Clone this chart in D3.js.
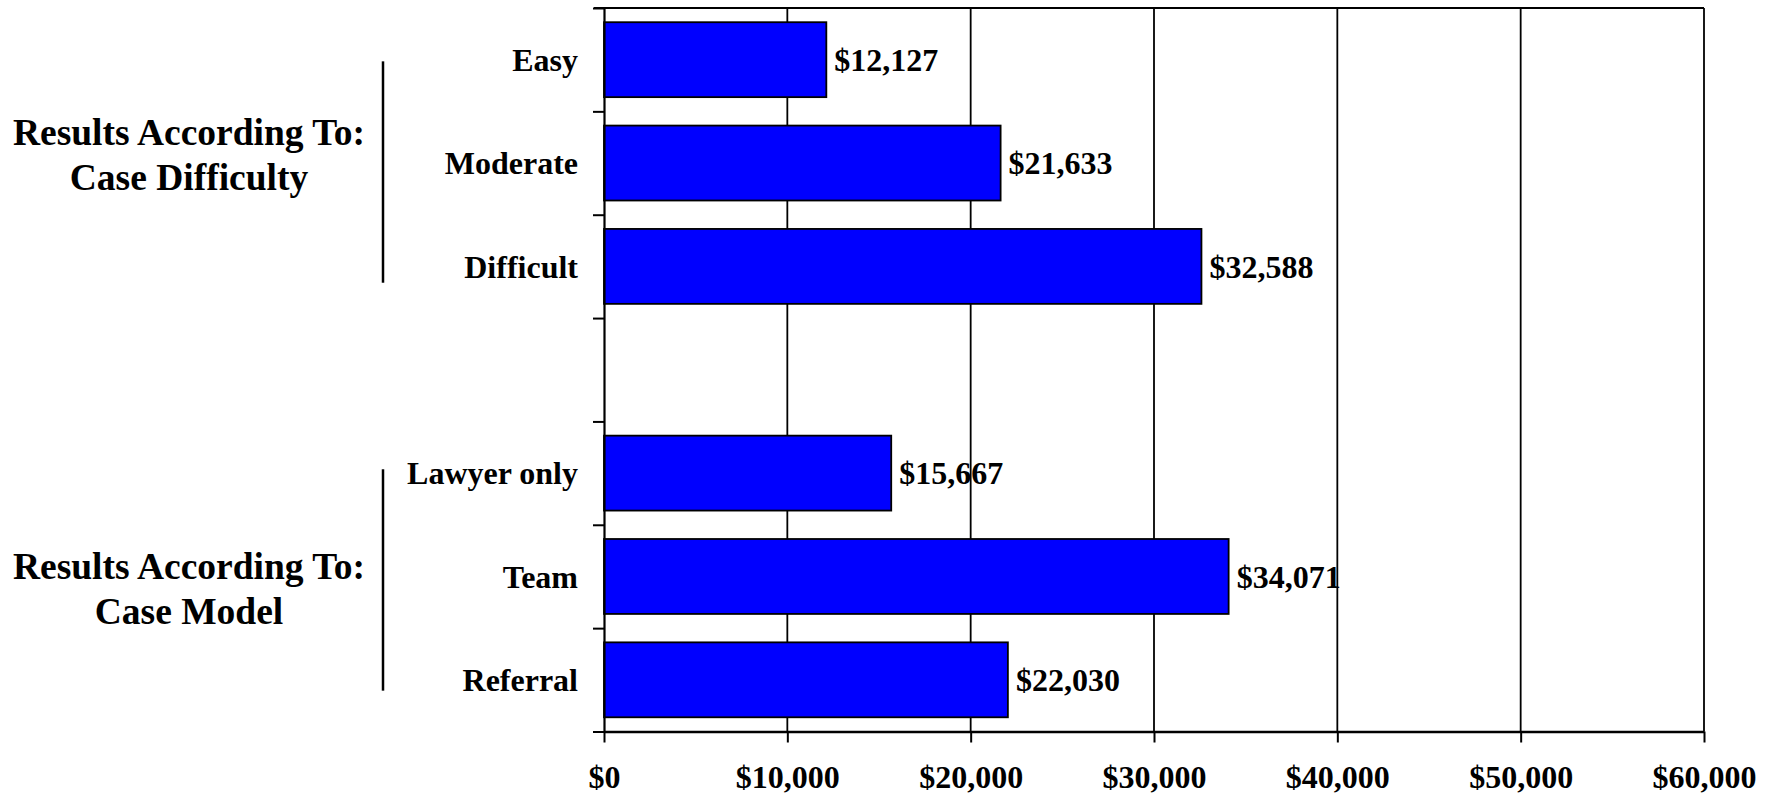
<!DOCTYPE html>
<html>
<head>
<meta charset="utf-8">
<script src="https://cdn.jsdelivr.net/npm/d3@7"></script>
<style>
  html, body { margin: 0; padding: 0; background: #fff; }
  svg text { font-family: "Liberation Serif", "Times New Roman", serif; font-weight: bold; fill: #000; }
</style>
</head>
<body>
<svg id="chart" width="1773" height="799"></svg>
<script>
// ---- data ----
const categories = ["Easy", "Moderate", "Difficult", "", "Lawyer only", "Team", "Referral"];
const values = [12127, 21633, 32588, null, 15667, 34071, 22030];
const groupTitles = [["Results According To:", "Case Difficulty"], ["Results According To:", "Case Model"]];
const groupMembers = [["Easy", "Moderate", "Difficult"], ["Lawyer only", "Team", "Referral"]];
const xTickValues = [0, 10000, 20000, 30000, 40000, 50000, 60000];

// ---- layout ----
const svg = d3.select("#chart");
const pLeft = 604, pRight = 1704, pTop = 8, pBottom = 731.5;
const keys = categories.map((c, i) => i);
const groupLayout = [{ titleShift: -9, bracketShift: 9 }, { titleShift: 11.5, bracketShift: 3.5 }];

const x = d3.scaleLinear().domain([0, 60000]).range([pLeft, pRight]);
const y = d3.scaleBand().domain(keys).range([pTop, pBottom]).paddingInner(0.275).paddingOuter(0.1375);
const fmt = v => "$" + d3.format(",")(v);

// gridlines
svg.append("g").selectAll("line").data(xTickValues.slice(1)).join("line")
  .attr("x1", d => x(d)).attr("x2", d => x(d)).attr("y1", pTop).attr("y2", pBottom)
  .attr("stroke", "#000").attr("stroke-width", 1.8);
// top border
svg.append("line").attr("x1", pLeft - 10).attr("x2", pRight).attr("y1", pTop).attr("y2", pTop)
  .attr("stroke", "#000").attr("stroke-width", 1.8);

// bars
const bars = categories.map((c, i) => ({ key: i, cat: c, v: values[i] })).filter(d => d.v != null);
svg.append("g").selectAll("rect").data(bars).join("rect")
  .attr("x", x(0)).attr("y", d => y(d.key))
  .attr("width", d => x(d.v) - x(0)).attr("height", y.bandwidth())
  .attr("fill", "#0000FF").attr("stroke", "#000").attr("stroke-width", 1.8);

// value labels
svg.append("g").selectAll("text").data(bars).join("text")
  .attr("x", d => x(d.v) + 8).attr("y", d => y(d.key) + y.bandwidth() / 2)
  .attr("dy", "0.35em").attr("font-size", 32).text(d => fmt(d.v));

// x axis
const xAxis = d3.axisBottom(x).tickValues(xTickValues).tickSize(11).tickSizeOuter(0).tickFormat(fmt).tickPadding(23);
const gx = svg.append("g").attr("transform", `translate(0,${pBottom})`).call(xAxis);
gx.select(".domain").attr("stroke-width", 2.5);
gx.selectAll(".tick line").attr("stroke-width", 2);
gx.selectAll(".tick text").attr("font-size", 32).attr("font-family", "Liberation Serif").attr("font-weight", "bold");

// y axis (ticks between categories)
const yb = d3.scaleLinear().domain([0, categories.length]).range([pTop, pBottom]);
const yAxis = d3.axisLeft(yb).tickValues(d3.range(categories.length + 1)).tickSize(11).tickSizeOuter(0).tickFormat("");
const gy = svg.append("g").attr("transform", `translate(${pLeft},0)`).call(yAxis);
gy.select(".domain").attr("stroke-width", 2.2);
gy.selectAll(".tick line").attr("stroke-width", 2);

// category labels
svg.append("g").selectAll("text").data(categories.map((c, i) => ({ c, i })).filter(d => d.c)).join("text")
  .attr("x", 578).attr("y", d => y(d.i) + y.bandwidth() / 2).attr("dy", "0.35em")
  .attr("text-anchor", "end").attr("font-size", 32).text(d => d.c);

// group brackets & titles
groupMembers.forEach((mem, gi) => {
  const mid = categories.indexOf(mem[Math.floor(mem.length / 2)]);
  const cy = y(mid) + y.bandwidth() / 2;
  const L = groupLayout[gi];
  const half = y.step() * mem.length * 0.357;
  svg.append("line").attr("x1", 383).attr("x2", 383)
    .attr("y1", cy + L.bracketShift - half).attr("y2", cy + L.bracketShift + half)
    .attr("stroke", "#000").attr("stroke-width", 2.5);
  const tc = cy + L.titleShift;
  const t = svg.append("text").attr("x", 189).attr("y", tc - 22.5).attr("dy", "0.35em")
    .attr("text-anchor", "middle").attr("font-size", 37.5);
  groupTitles[gi].forEach((line, li) => {
    t.append("tspan").attr("x", 189).attr("dy", li === 0 ? "0.35em" : 45.5).text(line);
  });
});
</script>
</body>
</html>
